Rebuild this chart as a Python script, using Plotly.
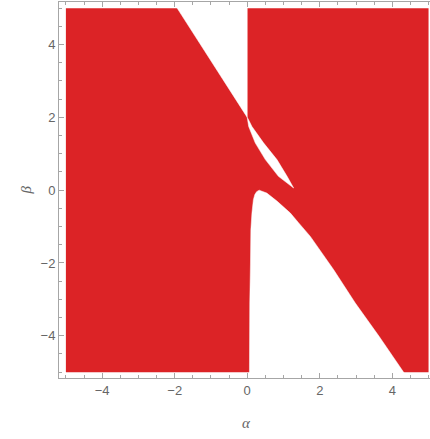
import plotly.graph_objects as go

# Parameter domain of the region plot
ALPHA_DOMAIN = [-5, 5]
BETA_DOMAIN = [-5, 5]

# Boundary of the white (excluded) wedge at the top (extends past the domain edge)
TOP_HOLE_ALPHA = [-2.06, 0.0, 0.0]
TOP_HOLE_BETA = [5.2, 2.0, 5.2]

# Boundary of the thin white sliver between the wedge and the lower region
SLIVER_ALPHA = [0.0, 0.01, 0.04, 0.22, 0.50, 0.86, 1.28, 1.10, 0.82, 0.45, 0.13, 0.03, 0.0]
SLIVER_BETA = [2.0, 1.95, 1.75, 1.30, 0.84, 0.38, 0.06, 0.38, 0.84, 1.30, 1.75, 1.95, 2.0]

# Boundary of the lower white region (extends past the domain edge)
LOW_HOLE_ALPHA = [0.06, 0.06, 0.07, 0.09, 0.10, 0.13, 0.17, 0.21, 0.26, 0.33, 0.40, 0.54,
                  0.82, 1.19, 1.42, 1.74, 2.38, 2.98, 3.64, 3.89, 4.31, 4.45]
LOW_HOLE_BETA = [-5.2, -4.0, -3.1, -2.0, -1.09, -0.63, -0.26, -0.12, -0.04, 0.0, -0.02, -0.08,
                 -0.30, -0.63, -0.90, -1.27, -2.18, -3.10, -4.02, -4.38, -5.0, -5.2]

X_TICKS = [-4, -2, 0, 2, 4]
Y_TICKS = [-4, -2, 0, 2, 4]

RED = "#dc2326"
FRAME = "#a6a6a6"
LABEL = "#666666"

fig = go.Figure()

rect_a = [ALPHA_DOMAIN[0], ALPHA_DOMAIN[1], ALPHA_DOMAIN[1], ALPHA_DOMAIN[0], ALPHA_DOMAIN[0]]
rect_b = [BETA_DOMAIN[0], BETA_DOMAIN[0], BETA_DOMAIN[1], BETA_DOMAIN[1], BETA_DOMAIN[0]]
fig.add_trace(go.Scatter(x=rect_a, y=rect_b, mode="lines", fill="toself",
                         fillcolor=RED, line=dict(width=0, color=RED), hoverinfo="skip"))

for xa, yb in [(TOP_HOLE_ALPHA, TOP_HOLE_BETA), (SLIVER_ALPHA, SLIVER_BETA),
               (LOW_HOLE_ALPHA, LOW_HOLE_BETA)]:
    fig.add_trace(go.Scatter(x=xa, y=yb, mode="lines", fill="toself",
                             fillcolor="white", line=dict(width=0.5, color="white"),
                             hoverinfo="skip"))

font = dict(family="Liberation Sans, Arial, sans-serif", size=13, color=LABEL)

fig.update_layout(
    width=430, height=439,
    margin=dict(l=59, r=0, t=2, b=61),
    paper_bgcolor="white", plot_bgcolor="white",
    showlegend=False,
    font=font,
    xaxis=dict(range=[-5.19, 5.04], tickvals=X_TICKS, ticks="inside", ticklen=5,
               tickcolor=FRAME, showline=True, linecolor=FRAME, linewidth=1,
               mirror="ticks", showgrid=False, zeroline=False, automargin=False,
               minor=dict(ticks="inside", ticklen=3, dtick=0.5, tick0=0, tickcolor=FRAME),
               tickfont=font),
    yaxis=dict(range=[-5.16, 5.17], tickvals=Y_TICKS, ticks="inside", ticklen=5,
               tickcolor=FRAME, showline=True, linecolor=FRAME, linewidth=1,
               mirror=False, showgrid=False, zeroline=False, automargin=False,
               minor=dict(ticks="inside", ticklen=3, dtick=0.5, tick0=0, tickcolor=FRAME),
               tickfont=font),
    annotations=[
        dict(text="<i>α</i>", xref="paper", yref="paper", x=0.505, y=-0.12,
             xanchor="center", yanchor="middle", showarrow=False,
             font=dict(size=15, color=LABEL, family="Liberation Serif, serif")),
        dict(text="<i>β</i>", xref="paper", yref="paper", x=-0.09, y=0.5,
             xanchor="center", yanchor="middle", showarrow=False, textangle=-90,
             font=dict(size=15, color=LABEL, family="Liberation Serif, serif")),
    ],
)

fig.write_html("out.html", config={"displayModeBar": False},
               post_script="document.body.style.margin='0';document.body.style.overflow='hidden';")
